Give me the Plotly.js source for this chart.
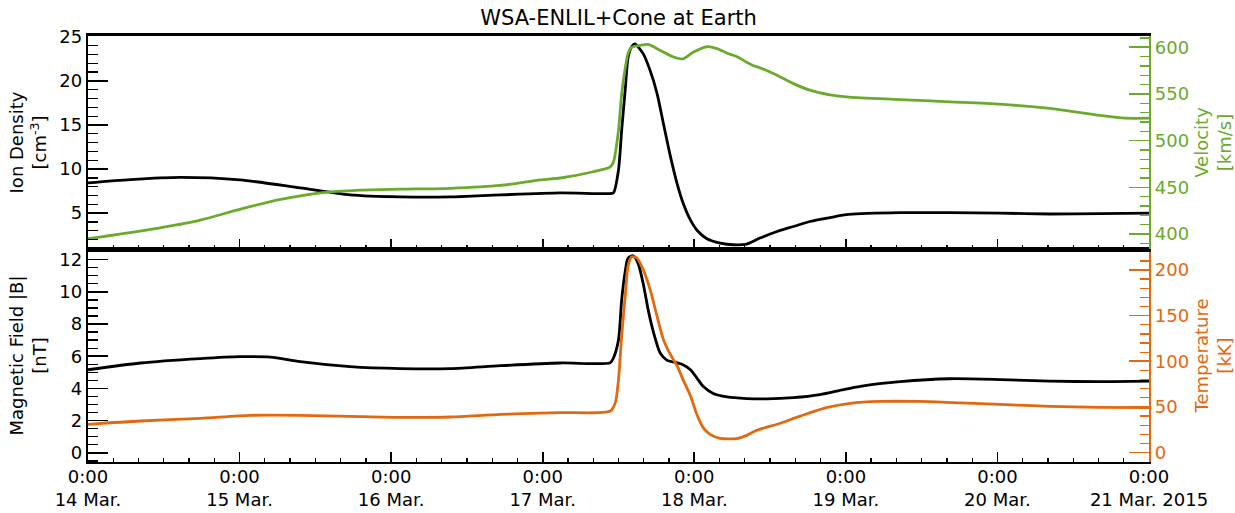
<!DOCTYPE html>
<html>
<head>
<meta charset="utf-8">
<script src="https://cdn.plot.ly/plotly-3.0.1.min.js"></script>
<style>html,body{margin:0;padding:0;background:#fff}</style>
</head>
<body>
<div id="chart" style="width:1235px;height:513px"></div>
<script>
// Hours since 2015-03-14 00:00 UT
const dayTicks = [0, 24, 48, 72, 96, 120, 144, 168];
const dayLabels = ["0:00<br>14 Mar.", "0:00<br>15 Mar.", "0:00<br>16 Mar.", "0:00<br>17 Mar.",
                   "0:00<br>18 Mar.", "0:00<br>19 Mar.", "0:00<br>20 Mar.", "0:00<br>21 Mar. 2015"];

// Ion density [cm^-3]
const densityHours = [0, 6.7, 14.6, 24.1, 33.6, 41.5, 49.5, 57.4, 65.3, 74.8, 82.7, 83.2, 84.0, 84.5, 85.1, 85.5, 86.1, 86.6,
  87.9, 89.0, 90.1, 91.1, 92.2, 93.3, 94.3, 95.4, 96.5, 98.0, 100.1, 102.2, 104.3, 106.4, 109.1, 111.7, 114.3, 117.5,
  120.5, 128.6, 136.5, 144.4, 152.3, 160.2, 168];
const density = [8.43, 8.8, 9.05, 8.77, 7.86, 7.07, 6.84, 6.84, 7.07, 7.3, 7.22, 7.3, 9.9, 14.4, 19.3, 22.6, 23.9, 24.2,
  23.1, 21.2, 18.6, 15.2, 11.5, 8.3, 6.0, 4.2, 3.0, 2.1, 1.6, 1.41, 1.49, 2.17, 2.92, 3.48, 4.05, 4.5,
  4.85, 5.05, 5.05, 5.0, 4.9, 4.95, 5.0];

// Velocity [km/s]
const velocityHours = [0, 9.9, 17.8, 24.3, 30.5, 36.8, 43.1, 49.5, 57.4, 65.3, 71.6, 74.8, 80.0, 82.7, 83.2, 84.0, 84.5,
  85.1, 85.5, 86.1, 87.4, 88.7, 90.6, 92.7, 94.2, 95.8, 98.0, 99.6, 101.2, 102.7, 104.3, 105.3, 106.4, 109.1, 111.7,
  114.3, 117.5, 120.5, 128.6, 136.5, 144.4, 152.3, 160.2, 164.2, 168];
const velocity = [395, 405, 415, 427, 437, 444, 447, 448, 449, 452, 458, 460, 466.7, 472, 477, 511, 550,
  579, 593, 600, 602, 603, 596.5, 589.5, 587.5, 594.5, 600.5, 598.5, 593.5, 590, 584, 580.5, 578, 570, 561,
  554, 549, 546.5, 544, 541.5, 539, 534.5, 527, 524, 524];

// Magnetic field |B| [nT]
const fieldHours = [0, 8.3, 17.8, 24.1, 28.9, 33.6, 41.5, 49.5, 57.4, 65.3, 74.8, 82.7, 83.2, 84.0, 84.5, 85.1, 85.5,
  86.3, 87.1, 87.9, 88.7, 89.5, 90.6, 91.7, 93.0, 94.2, 95.4, 96.4, 97.4, 99.0, 101.2, 104.3, 107.5, 111.7, 115.9,
  119.6, 122.3, 128.6, 136.5, 144.4, 152.3, 160.2, 168];
const field = [5.16, 5.58, 5.85, 5.97, 5.95, 5.66, 5.35, 5.23, 5.23, 5.41, 5.58, 5.6, 5.89, 7.02, 9.5, 11.36, 12.08,
  12.24, 11.77, 10.53, 8.88, 7.54, 6.2, 5.74, 5.62, 5.47, 5.16, 4.65, 4.13, 3.68, 3.47, 3.37, 3.35, 3.43, 3.62,
  3.93, 4.13, 4.42, 4.6, 4.55, 4.45, 4.42, 4.45];

// Temperature [kK]
const tempHours = [0, 8.3, 17.8, 25.7, 33.6, 41.5, 49.5, 57.4, 65.3, 74.8, 82.7, 83.5, 84.0, 84.5, 85.1, 85.5, 86.1,
  86.9, 87.9, 89.0, 90.1, 91.1, 92.2, 93.3, 94.2, 95.4, 96.4, 97.4, 98.5, 100.1, 102.7, 104.3, 105.9, 109.1, 112.8,
  116.9, 120.7, 125.4, 131.7, 138.1, 144.4, 152.3, 160.2, 168];
const temperature = [31, 34.6, 37.5, 40.8, 40.8, 39.7, 38.6, 39, 41.9, 43.8, 45.5, 54.7, 80, 127.6, 175, 204, 214.4,
  213.3, 200.5, 178.7, 149.5, 124, 107.5, 94.7, 80.2, 62, 42, 27.4, 20, 15.6, 15.3, 18.9, 24.4, 31, 40,
  49.2, 53.9, 56, 56, 54.5, 52.8, 50.7, 49.6, 49.3];

const GREEN = '#6aaa2c';
const ORANGE = '#e2690f';
const FONT = 'DejaVu Sans, Liberation Sans, sans-serif';

function curve(x, y, color, xa, ya) {
  return {x: x, y: y, xaxis: xa, yaxis: ya, type: 'scatter', mode: 'lines', hoverinfo: 'skip',
          line: {color: color, width: 2.8, shape: 'spline', smoothing: 0.7}};
}

const data = [
  curve(velocityHours, velocity, GREEN, 'x2', 'y2'),
  curve(densityHours, density, 'black', 'x2', 'y'),
  curve(tempHours, temperature, ORANGE, 'x', 'y4'),
  curve(fieldHours, field, 'black', 'x', 'y3')
];

const xCommon = {
  range: [0, 168], tickmode: 'array', tickvals: dayTicks, ticktext: dayLabels,
  ticks: 'inside', ticklen: 10, tickwidth: 1.6, tickcolor: 'black',
  minor: {dtick: 4, tick0: 0, ticks: 'inside', ticklen: 4.5, tickwidth: 1.3, tickcolor: 'black'},
  showline: true, linecolor: 'black', linewidth: 2.2, mirror: true,
  showgrid: false, zeroline: false, fixedrange: true,
  tickfont: {family: FONT, size: 18, color: 'black'}
};

function yAxis(opts) {
  const c = opts.color || 'black';
  return Object.assign({
    ticks: 'inside', ticklen: 20, tickwidth: 1.6, tickcolor: c,
    showline: true, linecolor: c, linewidth: 2.2,
    showgrid: false, zeroline: false, fixedrange: true,
    tickfont: {family: FONT, size: 18, color: c},
    title: {text: opts.titleText, font: {family: FONT, size: 18, color: c}, standoff: 8}
  }, opts.extra);
}

const layout = {
  width: 1235, height: 513,
  margin: {l: 88, r: 86, t: 36, b: 51, pad: 0},
  paper_bgcolor: 'white', plot_bgcolor: 'white',
  showlegend: false,
  title: {text: 'WSA-ENLIL+Cone at Earth', x: 0.5, xref: 'paper', xanchor: 'center',
          y: 0.965, yref: 'container', yanchor: 'middle',
          font: {family: FONT, size: 21, color: 'black'}},
  xaxis: Object.assign({}, xCommon, {anchor: 'y3', domain: [0, 1], ticklabelstandoff: -3}),
  xaxis2: Object.assign({}, xCommon, {anchor: 'y', matches: 'x', showticklabels: false, linewidth: 2.6}),
  yaxis: yAxis({titleText: 'Ion Density<br>[cm<sup>-3</sup>]',
    extra: {domain: [0.5, 1], anchor: 'x2', range: [0.93, 25.1], tick0: 0, dtick: 5,
            minor: {dtick: 1, ticks: 'inside', ticklen: 10, tickwidth: 1.3, tickcolor: 'black'}}}),
  yaxis2: yAxis({titleText: 'Velocity<br>[km/s]', color: GREEN,
    extra: {domain: [0.5, 1], anchor: 'x2', overlaying: 'y', side: 'right', range: [384, 612], tick0: 0, dtick: 50,
            minor: {dtick: 10, ticks: 'inside', ticklen: 9, tickwidth: 1.3, tickcolor: GREEN}}}),
  yaxis3: yAxis({titleText: 'Magnetic Field |B|<br>[nT]',
    extra: {domain: [0, 0.5], anchor: 'x', range: [-0.57, 12.66], tick0: 0, dtick: 2,
            minor: {dtick: 0.5, ticks: 'inside', ticklen: 10, tickwidth: 1.3, tickcolor: 'black'}}}),
  yaxis4: yAxis({titleText: 'Temperature<br>[kK]', color: ORANGE,
    extra: {domain: [0, 0.5], anchor: 'x', overlaying: 'y3', side: 'right', range: [-10.3, 223], tick0: 0, dtick: 50,
            minor: {dtick: 10, ticks: 'inside', ticklen: 9, tickwidth: 1.3, tickcolor: ORANGE}}})
};

Plotly.newPlot('chart', data, layout, {staticPlot: true, displayModeBar: false});
</script>
</body>
</html>
